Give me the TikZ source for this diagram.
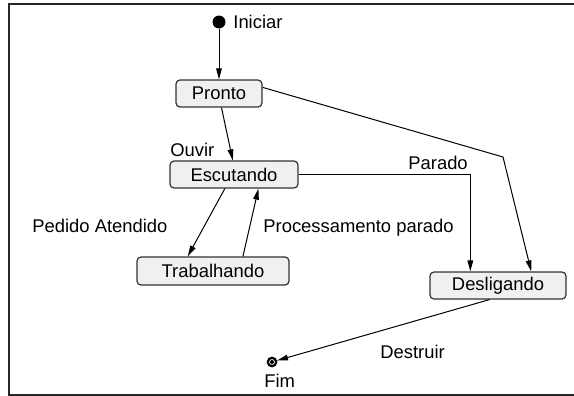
\documentclass[tikz,border=0pt]{standalone}
\usepackage{fontspec}
\setmainfont{Liberation Sans}
\usetikzlibrary{arrows.meta}

\begin{document}
\begin{tikzpicture}[x=0.5pt, y=-0.5pt, font=\fontsize{9.2}{11}\selectfont,
	st/.style={draw=black!80, fill=gray!12, rounded corners=2pt, line width=0.6pt, minimum height=13.5pt, inner sep=0},
	lb/.style={anchor=base west, inner sep=0},
	>={Triangle[length=5.5pt, width=2.8pt]}]
		\useasboundingbox (0,0) rectangle (574,396);
		\draw[line width=0.8pt, black!85] (574,4) -- (9,4) -- (9,395) -- (574,395);

		\node [circle, fill=black, minimum size=6.5pt, inner sep=0] (I) at (219,22) {};
		\node [st, minimum width=43pt] (P) at (219,93.5) {Pronto};
		\node [st, minimum width=64pt] (E) at (234,174.5) {Escutando};
		\node [st, minimum width=76pt, minimum height=14pt] (T) at (213,271) {Trabalhando};
		\node [st, minimum width=68pt] (D) at (498,285.5) {Desligando};
		\node [circle, draw, line width=1.1pt, minimum size=4.2pt, inner sep=0,
			path picture={\fill (path picture bounding box.center) circle (1pt);}] (F) at (272,362) {};
		\coordinate (bk) at (503,157);

		\node [lb] (lI) at (233,28) {Iniciar};
		\node [lb] (lO) at (170,156) {Ouvir};
		\node [lb] (lA) at (32,232) {Pedido Atendido};
		\node [lb] (lR) at (263,232) {Processamento parado};
		\node [lb] (lP) at (408,169) {Parado};
		\node [lb] (lD) at (380,358) {Destruir};
		\node [lb] (lF) at (264,387) {Fim};

		\path[->, line width=0.5pt] (I) edge (P.north);
		\path[->, line width=0.5pt] (P.-80) edge (E.95);
		\path[->, line width=0.5pt] (E.237) edge (T.150);
		\path[->, line width=0.5pt] (T.26) edge (E.-30);
		\draw[->, line width=0.5pt] (E.east) -| (D.153);
		\draw[->, line width=0.5pt] (P.8) -- (bk) -- (D.23);
		\path[->, line width=0.5pt] (D.-121) edge (F);
	\end{tikzpicture}
\end{document}
